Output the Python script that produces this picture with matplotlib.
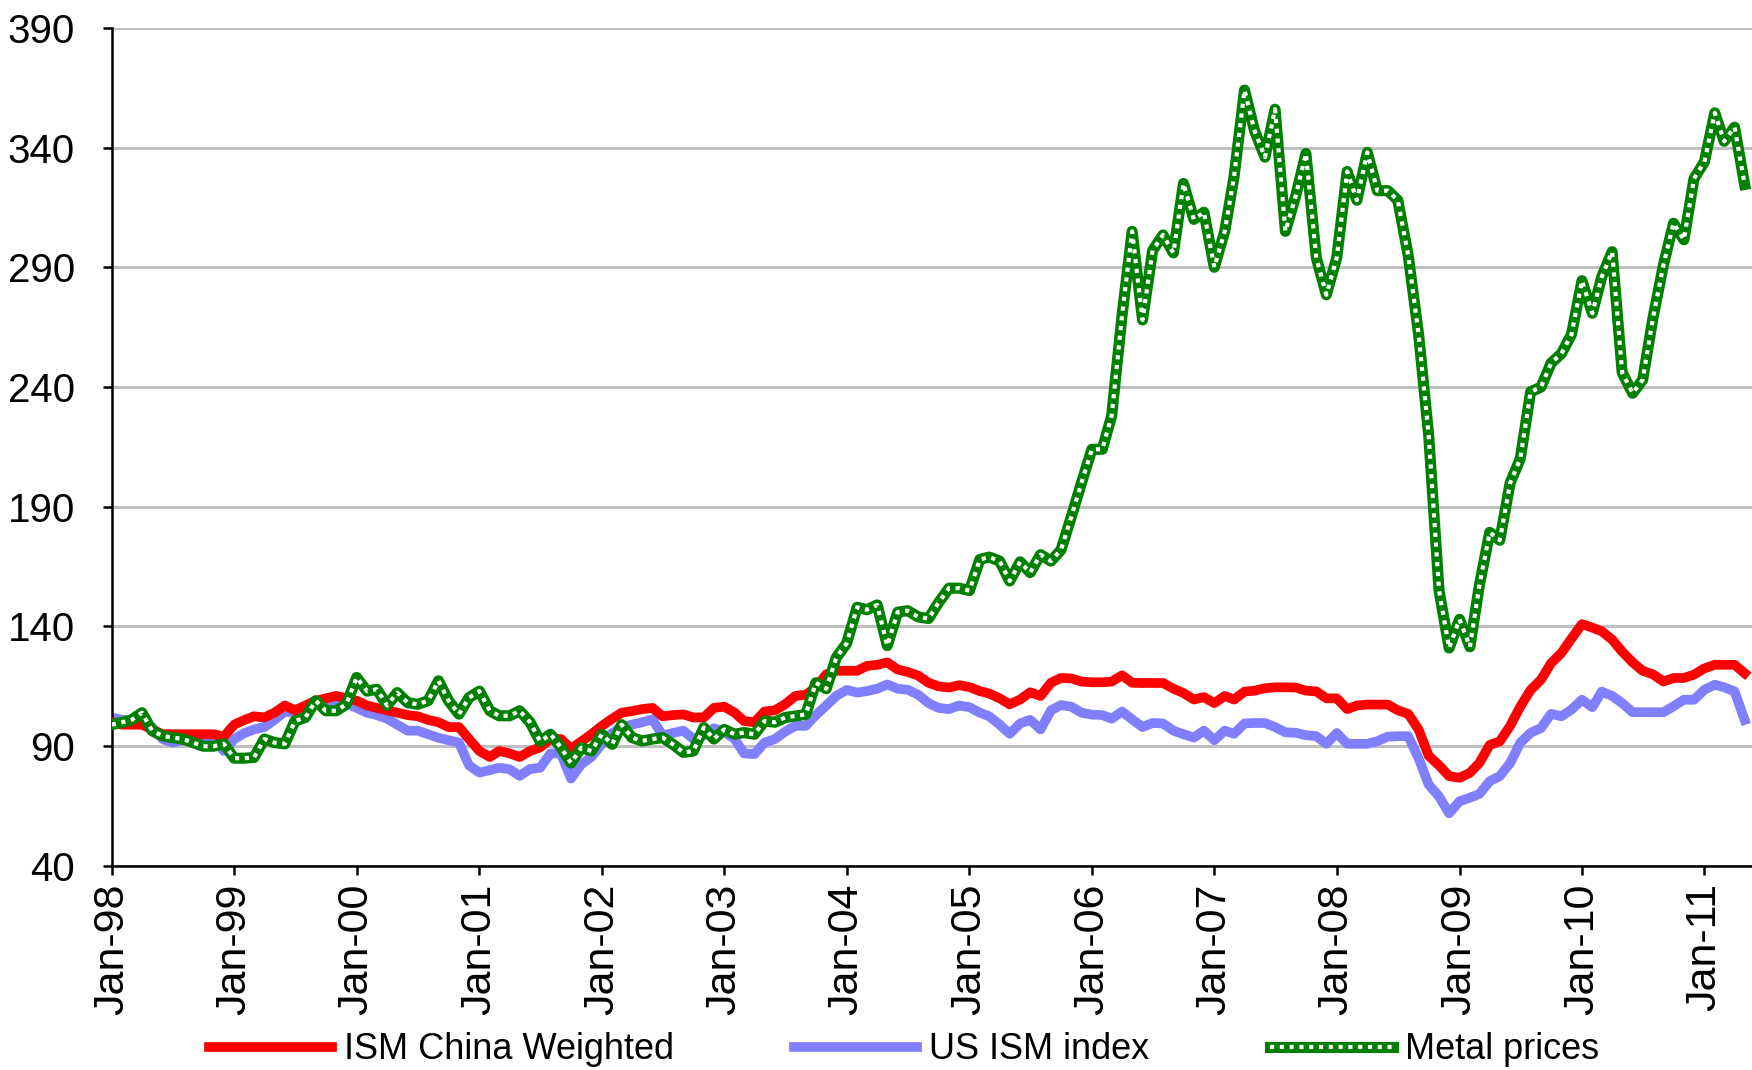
import pandas as pd
import matplotlib.pyplot as plt
import matplotlib.dates as mdates
from matplotlib.legend_handler import HandlerTuple

# monthly, Jan-98 .. May-11
months = pd.date_range("1998-01-01", "2011-05-01", freq="MS")

ism_china = [
    100, 99, 99, 99, 97, 95, 95, 95, 95, 95, 95, 94,
    99, 101, 102.5, 102, 104, 107, 105, 107, 109, 110, 111, 110,
    109, 107, 106, 105, 104, 103, 102.5, 101, 100, 98, 98, 93,
    88, 85.5, 88, 87, 85.5, 88, 89.5, 93, 93, 89, 92, 95,
    98.5, 101.5, 104, 104.7, 105.5, 106, 102.5, 103, 103.3, 102, 102, 106,
    106.5, 104, 100.5, 100, 104.5, 105, 107.5, 111, 111.5, 114.5, 120, 121.5,
    121.5, 121.5, 123.5, 124, 125, 122, 121, 119.5, 116.5, 115, 114.5, 115.5,
    114.7, 113, 112, 110, 107.5, 109.5, 112.5, 111, 116.5, 118.5, 118.3, 117,
    116.7, 116.7, 117, 119.6, 116.5, 116.4, 116.4, 116.4, 114, 112.2, 109.5, 110.5,
    108, 111, 109.5, 112.8, 113.2, 114.2, 114.6, 114.6, 114.5, 113.2, 112.9, 110,
    110, 105.5, 107, 107.4, 107.4, 107.4, 105, 103.5, 97, 86, 82, 77.5,
    76.8, 78.9, 83, 90.5, 92, 98.5, 106.5, 113.5, 117.8, 124.7, 129, 135,
    141, 139.5, 138, 134.5, 129.5, 125, 121.5, 120, 117, 118.5, 118.5, 119.9,
    122.5, 124, 124, 124, 120.5,
]

us_ism = [
    102, 101, 100.5, 100, 98, 93, 91.5, 92.5, 93, 93, 93, 88,
    93, 95.5, 97, 98, 101, 104.5, 104, 106, 107.5, 108, 108, 108,
    106, 104, 103, 101.5, 99, 96.5, 96.5, 95, 93.5, 92.5, 91.5, 82,
    79, 80, 81, 80.4, 77.6, 80.5, 81, 87, 87, 76.5, 82.5, 85.5,
    91, 95.5, 98, 99, 100, 101.2, 94.5, 95.5, 96.5, 93, 94.5, 97.5,
    96, 93, 87, 86.7, 91.5, 93, 96, 98.5, 98.5, 103, 107, 111,
    113.5, 112.4, 113, 114, 115.8, 114, 113.6, 111.5, 108, 106, 105.5, 107,
    106.3, 104, 102.5, 99, 95.2, 99.5, 101, 97, 105, 107.2, 106.5, 104,
    103.2, 103, 101.5, 104.5, 101.2, 98, 99.7, 99.5, 96.5, 95, 93.6, 96.5,
    92.5, 96.5, 95.2, 99.5, 99.7, 99.7, 98, 95.8, 95.6, 94.6, 94.2, 91,
    95.5, 91, 91, 91, 92.1, 94, 94.2, 94.2, 85, 74, 69, 62,
    67, 68.5, 70, 75.4, 77.5, 83, 91.4, 95.6, 97.6, 103.5, 102.5, 105.3,
    109.4, 106.3, 112.8, 111, 108, 104.2, 104.2, 104.2, 104.2, 106.7, 109.4, 109.4,
    113.6, 115.7, 114.6, 112.9, 101,
]

metal = [
    99, 100, 101, 104, 96.5, 94.3, 93.6, 93, 91.5, 90, 90, 91,
    85, 85, 85.3, 93, 91.5, 91, 100.5, 102, 109, 104.8, 104.8, 107.5,
    118.7, 113, 113.8, 107, 112.4, 108.2, 107.5, 109, 117.3, 109, 103.4, 110.3,
    113, 104.8, 102.7, 102.7, 104.8, 100, 92, 95, 89.5, 83, 89.4, 88,
    95, 90.8, 99, 93.6, 92.2, 93, 93.6, 90.8, 87.4, 88, 97.8, 93,
    97, 95, 95.7, 95, 100.5, 100, 102, 102.6, 103.3, 116.5, 114, 127,
    133, 148, 147, 149, 132, 146, 146.6, 144, 143.3, 150, 156, 156,
    155, 168, 169, 167.3, 159, 167, 162.5, 170, 167.3, 172, 186, 200,
    214, 214, 228, 270, 305, 268, 297, 303.5, 296, 325, 310, 313,
    290, 305, 328, 364, 347, 336, 356, 305, 320, 337.5, 294, 278.5,
    294, 330, 318, 338, 322, 322, 318, 295, 262, 220, 155, 131,
    143, 131.5, 157, 179.3, 176, 200, 210, 238, 240, 250, 254, 262,
    284.4, 270.8, 286, 296.5, 246, 237.4, 243, 269, 291, 308.4, 301.5, 327,
    334, 354.5, 342.6, 348.5, 324.6,
]

plt.rcParams["font.family"] = ["Liberation Sans", "DejaVu Sans"]

fig = plt.figure(figsize=(17.52, 10.70), dpi=100)
ax = fig.add_axes([0.0638, 0.1907, 0.9362, 0.7833])

l_china, = ax.plot(months, ism_china, color="#FF0000", lw=7, solid_joinstyle="round", zorder=3)
l_us, = ax.plot(months, us_ism, color="#8080FF", lw=7, solid_joinstyle="round", zorder=2)
l_metal, = ax.plot(months, metal, color="#008000", lw=8, zorder=4)
l_dots, = ax.plot(months, metal, color="white", lw=3.0, linestyle=(0, (1, 1.35)),
                  dash_capstyle="butt", zorder=5)

ax.set_ylim(40, 390)
ax.set_yticks(range(40, 391, 50))
ax.set_xlim(months[0], months[-1] + pd.Timedelta(days=22))
ax.xaxis.set_major_locator(mdates.YearLocator())
ax.xaxis.set_major_formatter(mdates.DateFormatter("%b-%y"))

ax.grid(axis="y", color="#C0C0C0", lw=2.2)
ax.set_axisbelow(True)
for side in ["top", "right"]:
    ax.spines[side].set_visible(False)
for side in ["left", "bottom"]:
    ax.spines[side].set_linewidth(1.8)

ax.tick_params(axis="y", length=6.5, width=1.8, pad=20, labelsize=29)
ax.tick_params(axis="x", length=6.5, width=1.8, pad=6, labelsize=31, labelrotation=90)

fig.legend([l_china, l_us, (l_metal, l_dots)],
           ["ISM China Weighted", "US ISM index", "Metal prices"],
           handler_map={tuple: HandlerTuple(ndivide=1, pad=0)},
           loc="center", bbox_to_anchor=(0.516, 0.019), ncol=3, frameon=False,
           fontsize=26, handlelength=3.4, handletextpad=0.33, columnspacing=3.35,
           borderpad=0, borderaxespad=0)

fig.savefig("out.png", dpi=100)
